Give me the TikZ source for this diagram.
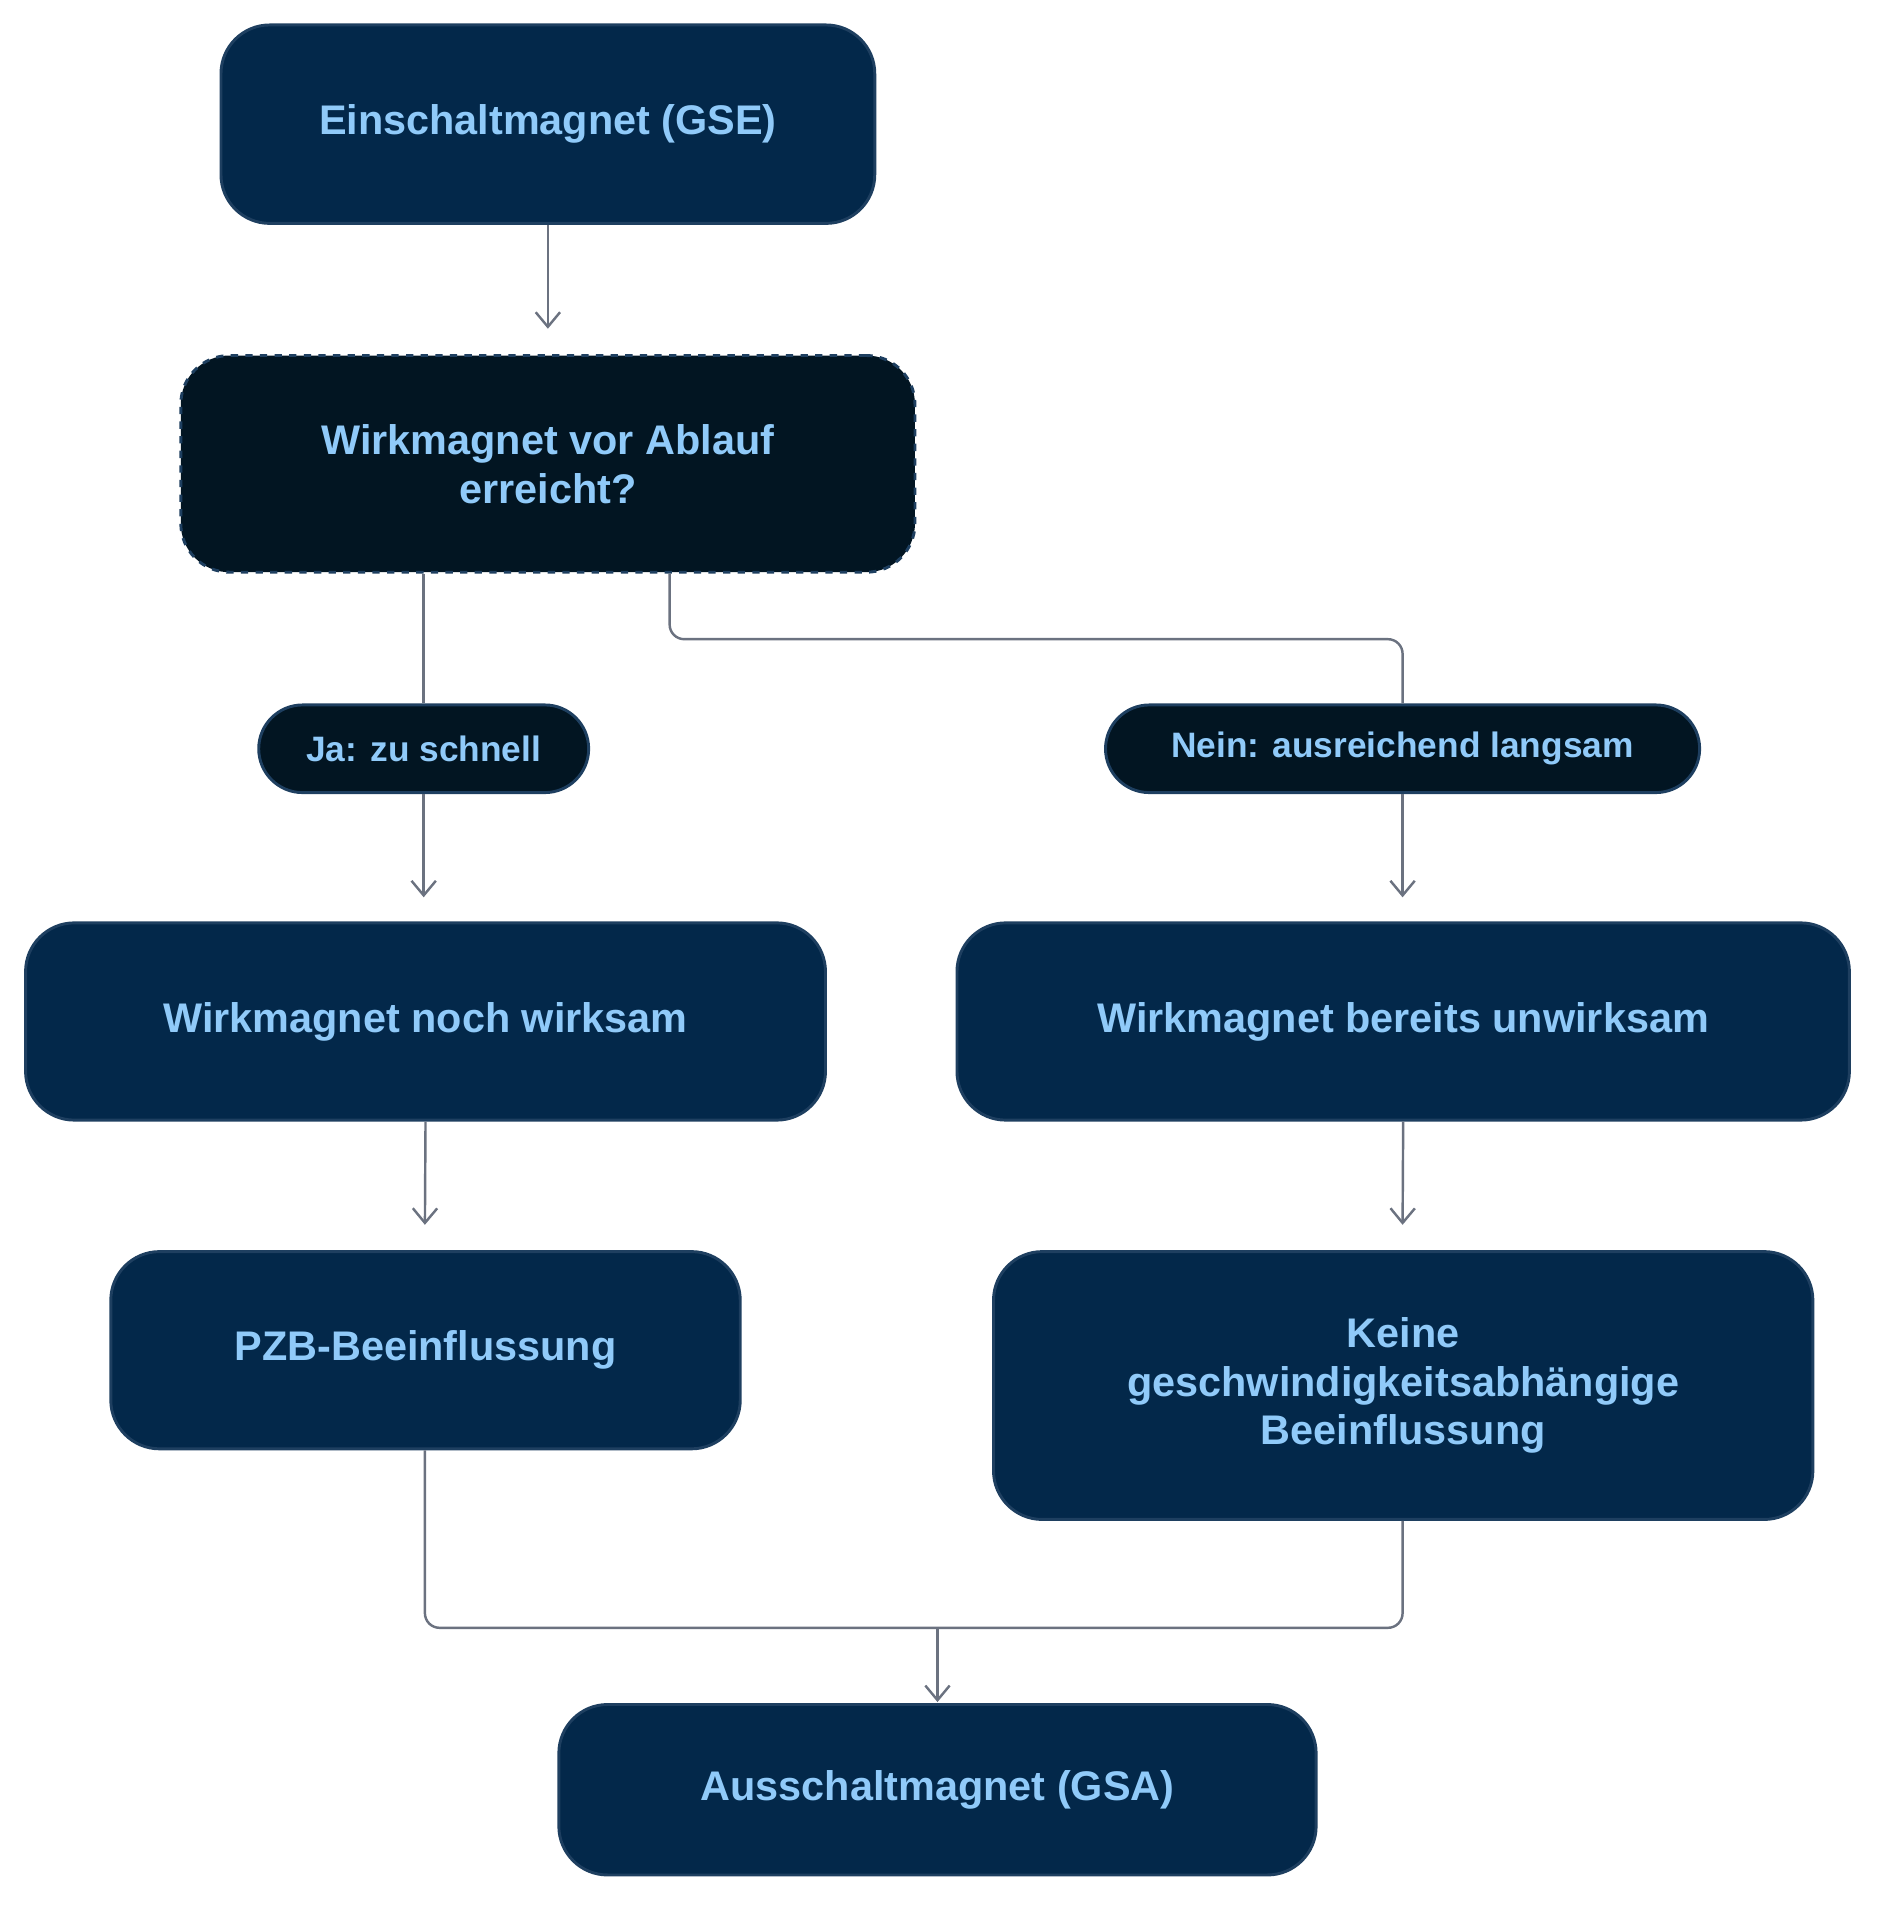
\documentclass[tikz,border=0pt]{standalone}
\usepackage{fontspec}
\setmainfont{Liberation Sans}
\usetikzlibrary{arrows.meta}
\definecolor{boxfill}{HTML}{03284A}
\definecolor{boxline}{HTML}{1E3F60}
\definecolor{decfill}{HTML}{021522}
\definecolor{txt}{HTML}{90CAF9}
\definecolor{ln}{HTML}{6B7280}
\begin{document}
\begin{tikzpicture}[x=0.5pt,y=-0.5pt,
  box/.style={draw=boxline,line width=1.2pt,fill=boxfill,rounded corners=20pt,text=txt,font=\fontsize{17}{20}\selectfont\bfseries,align=center,inner sep=0pt},
  dec/.style={box,fill=decfill,dashed},
  lab/.style={draw=boxline,line width=1.2pt,fill=decfill,rounded corners=18pt,text=txt,font=\fontsize{14.5}{17}\selectfont\bfseries,inner sep=0pt},
  arr/.style={draw=ln,line width=1pt,-{Straight Barb[length=6pt,width=10pt]}},
  con/.style={draw=ln,line width=1pt,rounded corners=6pt}]
\useasboundingbox (0,0) rectangle (1550,1577);
\node[box,minimum width=268.5pt,minimum height=81.5pt] (gse) at (450,102) {Einschaltmagnet (GSE)};
\node[dec,minimum width=301.5pt,minimum height=89pt] (dec) at (450,381) {Wirkmagnet vor Ablauf\\erreicht?};
\node[lab,minimum width=135.5pt,minimum height=36pt] (ja) at (348,615) {Ja: zu schnell};
\node[lab,minimum width=244pt,minimum height=36pt] (nein) at (1152,615) {Nein: ausreichend langsam};
\node[box,minimum width=328.5pt,minimum height=81pt] (noch) at (349.5,839) {Wirkmagnet noch wirksam};
\node[box,minimum width=366.5pt,minimum height=81pt] (ber) at (1152.5,839) {Wirkmagnet bereits unwirksam};
\node[box,minimum width=258.5pt,minimum height=81pt] (pzb) at (349.5,1109) {PZB-Beeinflussung};
\node[box,minimum width=336.5pt,minimum height=110pt] (keine) at (1152.5,1138) {Keine\\geschwindigkeitsabhängige\\Beeinflussung};
\node[box,minimum width=311pt,minimum height=70pt] (gsa) at (770,1470) {Ausschaltmagnet (GSA)};
\coordinate (m) at (770,1337);
\draw[arr] (gse.south) -- (450,270);
\draw[con] (dec.south -| ja) -- (ja.north);
\draw[arr] (ja.south) -- (348,737);
\draw[con] (dec.south -| 550,0) -- (550,525) -- (1152,525) -- (nein.north);
\draw[arr] (nein.south) -- (1152,737);
\draw[arr] (noch.south) -- (349,1006);
\draw[arr] (ber.south) -- (1152,1006);
\draw[con] (pzb.south -| 349,0) -- (349,1337) -- (1152,1337) -- (keine.south -| 1152,0);
\draw[arr] (m) -- (770,1398);
\end{tikzpicture}
\end{document}
